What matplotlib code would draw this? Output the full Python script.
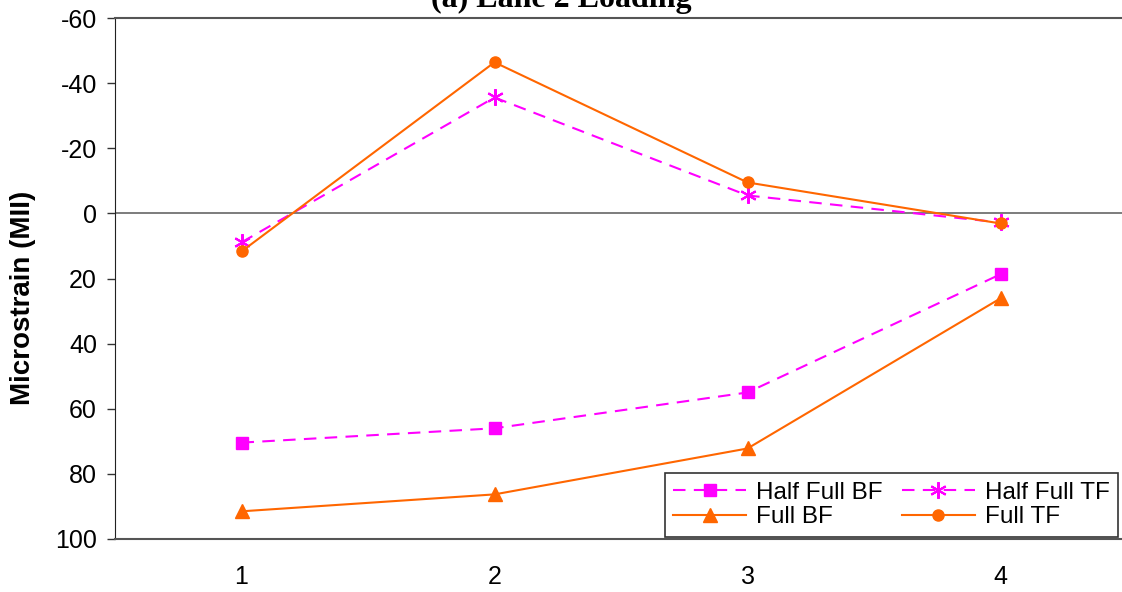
"""Lane 2 loading microstrain chart."""
import matplotlib
matplotlib.use("Agg")
import matplotlib.pyplot as plt

gauges = [1, 2, 3, 4]
half_full_bf = [70.4, 66.0, 55.0, 18.7]
full_bf = [91.5, 86.3, 72.2, 26.1]
half_full_tf = [8.9, -35.6, -5.5, 2.8]
full_tf = [11.7, -46.4, -9.5, 3.1]
yticks = [-60, -40, -20, 0, 20, 40, 60, 80, 100]

MAGENTA = "#ff00ff"
ORANGE = "#ff6600"

plt.rcParams["font.family"] = ["Liberation Sans", "DejaVu Sans"]
plt.rcParams["axes.unicode_minus"] = False

fig = plt.figure(figsize=(11.22, 5.92), dpi=100)
ax = fig.add_axes([115 / 1122, 53 / 592, 1012 / 1122, 521 / 592])

ax.axhline(0, color="#666666", lw=1.2, zorder=1)

h1, = ax.plot(gauges, half_full_bf, color=MAGENTA, ls=(0, (6, 4)), lw=1.5,
              marker="s", ms=8, label="Half Full BF")
h3, = ax.plot(gauges, half_full_tf, color=MAGENTA, ls=(0, (6, 4)), lw=1.5,
              marker=(6, 2, 0), ms=12, mew=1.5, label="Half Full TF")
h2, = ax.plot(gauges, full_bf, color=ORANGE, lw=1.5,
              marker="^", ms=9.5, label="Full BF")
h4, = ax.plot(gauges, full_tf, color=ORANGE, lw=1.5,
              marker="o", ms=8, label="Full TF")

ax.set_xlim(0.5, 4.5)
ax.set_ylim(100, -60)
ax.set_xticks(gauges)
ax.set_yticks(yticks)
ax.tick_params(axis="x", length=0, labelsize=18, pad=19)
ax.tick_params(axis="y", length=6, width=1, labelsize=18, pad=7, color="#333333")

for side in ("top", "bottom"):
    ax.spines[side].set_color("#555555")
    ax.spines[side].set_linewidth(1.5)
ax.spines["left"].set_color("#222222")
ax.spines["right"].set_visible(False)

fig.text(23 / 1122, 1 - 298 / 592, "Microstrain (MII)", rotation=90,
         ha="center", va="center", fontsize=20, fontweight="bold")

leg = ax.legend(handles=[h1, h2, h3, h4], ncol=2, fontsize=17.5,
                loc="lower right", bbox_to_anchor=(1003 / 1012, 0.004),
                frameon=True, fancybox=False, edgecolor="black",
                handlelength=3.0, handletextpad=0.4, columnspacing=0.8,
                labelspacing=0.1, borderpad=0.35, borderaxespad=0)
leg.get_frame().set_linewidth(1.2)

fig.text(0.5, 1 - 7 / 592, "(a) Lane 2 Loading", ha="center", va="baseline",
         fontsize=23, fontweight="bold", family=["Liberation Serif", "DejaVu Serif"])

fig.savefig("out.png", dpi=100, facecolor="white")
